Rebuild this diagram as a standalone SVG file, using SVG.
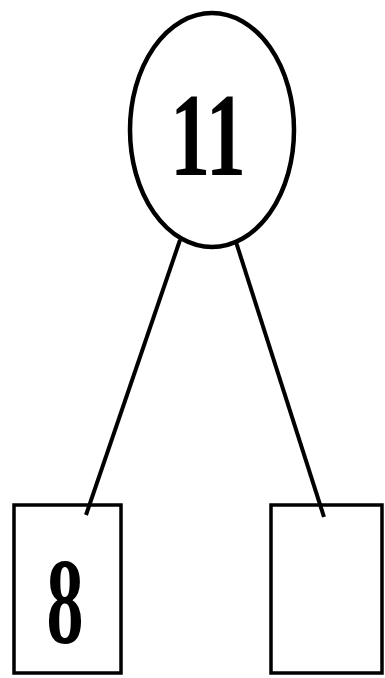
<svg xmlns="http://www.w3.org/2000/svg" width="385" height="678" viewBox="0 0 385 678">
<style>
.shape{fill:#fff;stroke:#000;stroke-width:3.5}
.ell{stroke-width:4.5}
.edge{stroke:#000;stroke-width:4;fill:none}
.lbl{font-family:"Liberation Serif","Times New Roman",serif;font-weight:bold;fill:#000;text-anchor:middle}
</style>
<rect width="385" height="678" fill="#fff"/>
<g id="node-8">
<rect class="shape" x="14" y="505" width="107" height="168"/>
<text class="lbl" x="65" y="643" font-size="122" textLength="37" lengthAdjust="spacingAndGlyphs">8</text>
</g>
<g id="node-empty">
<rect class="shape" x="271" y="505" width="111" height="168"/>
</g>
<g id="connectors">
<line class="edge" x1="180" y1="240" x2="86" y2="515"/>
<line class="edge" x1="236" y1="242" x2="324" y2="517"/>
</g>
<g id="node-11">
<ellipse class="shape ell" cx="212" cy="130" rx="82" ry="117"/>
<text class="lbl" x="208" y="175" font-size="118" textLength="76" lengthAdjust="spacingAndGlyphs">11</text>
</g>
</svg>
